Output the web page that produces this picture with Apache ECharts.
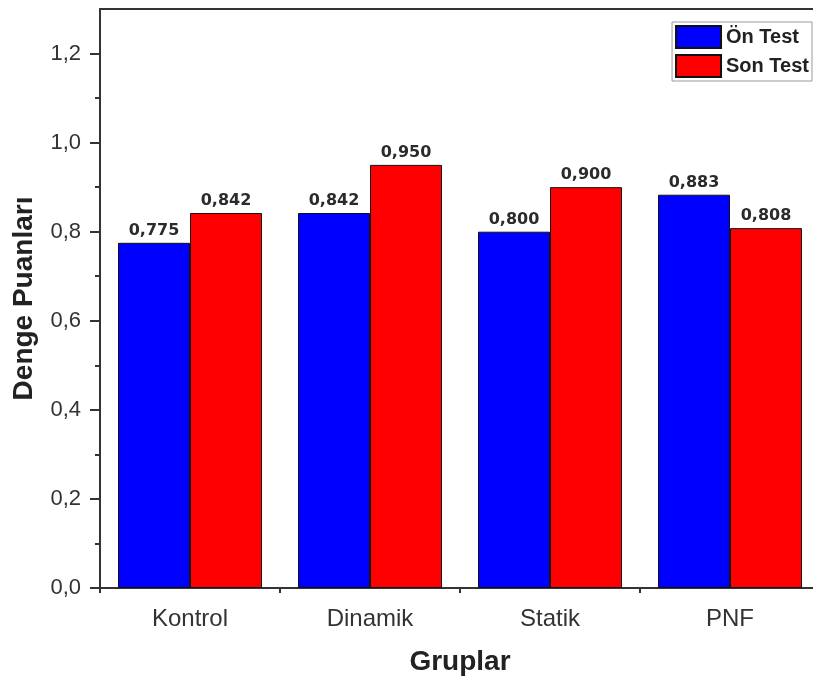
<!DOCTYPE html>
<html>
<head>
<meta charset="utf-8">
<script src="https://cdn.jsdelivr.net/npm/echarts@6/dist/echarts.min.js"></script>
<style>
html,body{margin:0;padding:0;background:#fff;overflow:hidden;width:813px;height:682px;}
#wrap{width:813px;height:682px;overflow:hidden;position:relative;}
#chart{width:820px;height:682px;position:absolute;left:0;top:0;}
</style>
</head>
<body>
<div id="wrap"><div id="chart"></div></div>
<script>
const categories = ['Kontrol', 'Dinamik', 'Statik', 'PNF'];
const seriesNames = ['Ön Test', 'Son Test'];
const onTest = [0.775, 0.842, 0.800, 0.883];
const sonTest = [0.842, 0.950, 0.900, 0.808];
const yMajorTicks = [0, 0.2, 0.4, 0.6, 0.8, 1.0, 1.2];
const yMinorTicks = [0.1, 0.3, 0.5, 0.7, 0.9, 1.1];
const yMin = 0, yMax = 1.3;

const FONT = '"Liberation Sans", Arial, sans-serif';
const chart = echarts.init(document.getElementById('chart'), null, {renderer: 'canvas'});
const fmtLabel = p => p.value.toFixed(3).replace('.', ',');

const barLabel = {
  show: true, position: 'top', distance: 4,
  formatter: fmtLabel,
  fontFamily: '"DejaVu Sans", sans-serif', fontWeight: 'bold', fontSize: 16, color: '#2b2b2b'
};

chart.setOption({
  animation: false,
  backgroundColor: '#fff',
  grid: {left: 100, right: 0, top: 9, bottom: 94, show: false},
  legend: {
    data: seriesNames, orient: 'vertical', right: 8, top: 22,
    itemWidth: 45, itemHeight: 22, itemGap: 5, padding: 3,
    borderColor: '#999', borderWidth: 1,
    icon: 'rect',
    textStyle: {fontFamily: FONT, fontWeight: 'bold', fontSize: 20, color: '#222'}
  },
  xAxis: [{
    type: 'category', data: categories, position: 'bottom',
    name: 'Gruplar', nameLocation: 'middle', nameGap: 60,
    nameTextStyle: {fontFamily: FONT, fontWeight: 'bold', fontSize: 28, color: '#222'},
    axisLine: {lineStyle: {color: '#333', width: 2}},
    axisTick: {alignWithLabel: true, length: 10, lineStyle: {color: '#333', width: 2}},
    axisLabel: {fontFamily: FONT, fontSize: 24, color: '#333', margin: 19}
  }, {
    type: 'category', data: categories, position: 'bottom', gridIndex: 0,
    axisLine: {show: false},
    axisTick: {show: true, length: 5, lineStyle: {color: '#333', width: 2}},
    axisLabel: {show: false}
  }, {
    type: 'category', data: categories, position: 'top', gridIndex: 0,
    axisLine: {show: true, lineStyle: {color: '#333', width: 2}},
    axisTick: {show: false},
    axisLabel: {show: false}
  }],
  yAxis: [{
    type: 'value', min: yMin, max: yMax,
    name: 'Denge Puanları', nameLocation: 'middle', nameGap: 62,
    nameTextStyle: {fontFamily: FONT, fontWeight: 'bold', fontSize: 28, color: '#222'},
    splitLine: {show: false},
    axisLine: {show: true, lineStyle: {color: '#333', width: 2}},
    axisTick: {show: true, length: 10, customValues: yMajorTicks, lineStyle: {color: '#333', width: 2}},
    axisLabel: {customValues: yMajorTicks, fontFamily: FONT, fontSize: 22, color: '#333', margin: 19,
      formatter: v => v.toFixed(1).replace('.', ',')}
  }, {
    type: 'value', min: yMin, max: yMax, position: 'left', gridIndex: 0,
    splitLine: {show: false},
    axisLine: {show: false},
    axisTick: {show: true, length: 5, customValues: yMinorTicks, lineStyle: {color: '#333', width: 2}},
    axisLabel: {show: false}
  }],
  series: [{
    name: seriesNames[0], type: 'bar', data: onTest,
    barGap: '0%', barCategoryGap: '20%',
    itemStyle: {color: '#0000ff', borderColor: '#111', borderWidth: 1},
    label: barLabel
  }, {
    name: seriesNames[1], type: 'bar', data: sonTest,
    barGap: '0%', barCategoryGap: '20%',
    itemStyle: {color: '#ff0000', borderColor: '#111', borderWidth: 1},
    label: barLabel
  }]
});
</script>
</body>
</html>
